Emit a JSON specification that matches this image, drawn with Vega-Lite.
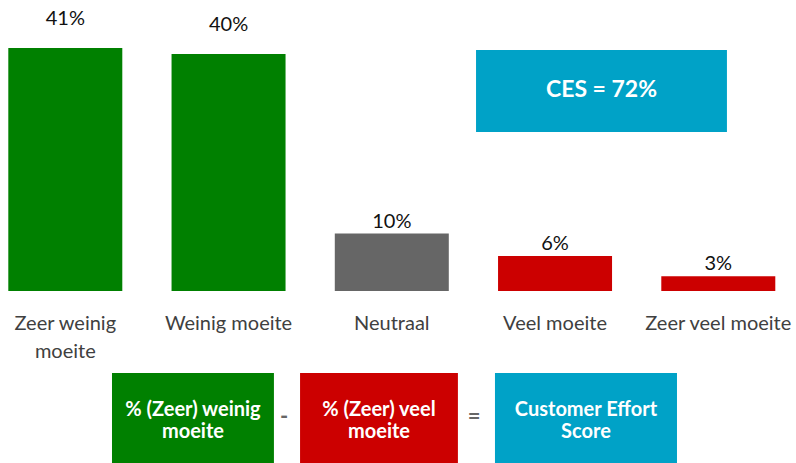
{
  "$schema": "https://vega.github.io/schema/vega-lite/v6.json",
  "width": 796,
  "height": 463,
  "autosize": {"type": "none"},
  "padding": 0,
  "config": {"view": {"stroke": null}, "font": "Lato"},
  "data": {"values": [
    {"idx": 1, "category": "Zeer weinig\nmoeite", "type": "weinig", "share": 0.41},
    {"idx": 2, "category": "Weinig moeite", "type": "weinig", "share": 0.40},
    {"idx": 3, "category": "Neutraal", "type": "neutraal", "share": 0.097},
    {"idx": 4, "category": "Veel moeite", "type": "veel", "share": 0.059},
    {"idx": 5, "category": "Zeer veel moeite", "type": "veel", "share": 0.025}
  ]},
  "layer": [
    {
      "mark": {"type": "bar", "width": 114},
      "encoding": {
        "x": {"field": "idx", "type": "quantitative", "axis": null, "scale": {"domain": [0.6, 5.476], "nice": false, "zero": false, "padding": 0}},
        "y": {"field": "share", "type": "quantitative", "axis": null, "scale": {"domain": [-0.2902, 0.491], "nice": false, "zero": false, "padding": 0}},
        "y2": {"datum": 0},
        "color": {"field": "type", "type": "nominal", "legend": null, "scale": {"domain": ["weinig", "neutraal", "veel"], "range": ["#008000", "#666666", "#cc0000"]}}
      }
    },
    {
      "transform": [{"filter": "datum.share > 0.3"}],
      "mark": {"type": "text", "baseline": "alphabetic", "dy": -23, "fontSize": 20, "color": "#111111"},
      "encoding": {
        "x": {"field": "idx", "type": "quantitative"},
        "y": {"field": "share", "type": "quantitative"},
        "text": {"field": "share", "type": "quantitative", "format": ".0%"}
      }
    },
    {
      "transform": [{"filter": "datum.share <= 0.3"}],
      "mark": {"type": "text", "baseline": "alphabetic", "dy": -6, "fontSize": 20, "color": "#111111"},
      "encoding": {
        "x": {"field": "idx", "type": "quantitative"},
        "y": {"field": "share", "type": "quantitative"},
        "text": {"field": "share", "type": "quantitative", "format": ".0%"}
      }
    },
    {
      "mark": {"type": "text", "baseline": "alphabetic", "fontSize": 20, "color": "#404040", "lineBreak": "\n", "lineHeight": 28},
      "encoding": {
        "x": {"field": "idx", "type": "quantitative"},
        "y": {"datum": -0.0658},
        "text": {"field": "category"}
      }
    },
    {
      "data": {"values": [{"label": "CES = 72%"}]},
      "layer": [
        {
          "mark": {"type": "rect", "color": "#00a2c7"},
          "encoding": {
            "x": {"datum": 3.516}, "x2": {"datum": 5.053},
            "y": {"datum": 0.4066}, "y2": {"datum": 0.2683}
          }
        },
        {
          "mark": {"type": "text", "color": "white", "fontWeight": "bold", "fontSize": 23, "baseline": "alphabetic"},
          "encoding": {
            "x": {"datum": 4.2845}, "y": {"datum": 0.3273},
            "text": {"field": "label"}
          }
        }
      ]
    },
    {
      "data": {"values": [{"label": "% (Zeer) weinig\nmoeite"}]},
      "layer": [
        {
          "mark": {"type": "rect", "color": "#008000"},
          "encoding": {
            "x": {"datum": 1.286}, "x2": {"datum": 2.278},
            "y": {"datum": -0.1383}, "y2": {"datum": -0.2902}
          }
        },
        {
          "mark": {"type": "text", "color": "white", "fontWeight": "bold", "fontSize": 20, "baseline": "alphabetic", "lineBreak": "\n", "lineHeight": 22},
          "encoding": {
            "x": {"datum": 1.782}, "y": {"datum": -0.2101},
            "text": {"field": "label"}
          }
        }
      ]
    },
    {
      "data": {"values": [{"label": "% (Zeer) veel\nmoeite"}]},
      "layer": [
        {
          "mark": {"type": "rect", "color": "#cc0000"},
          "encoding": {
            "x": {"datum": 2.438}, "x2": {"datum": 3.405},
            "y": {"datum": -0.1383}, "y2": {"datum": -0.2902}
          }
        },
        {
          "mark": {"type": "text", "color": "white", "fontWeight": "bold", "fontSize": 20, "baseline": "alphabetic", "lineBreak": "\n", "lineHeight": 22},
          "encoding": {
            "x": {"datum": 2.9215}, "y": {"datum": -0.2101},
            "text": {"field": "label"}
          }
        }
      ]
    },
    {
      "data": {"values": [{"label": "Customer Effort\nScore"}]},
      "layer": [
        {
          "mark": {"type": "rect", "color": "#00a2c7"},
          "encoding": {
            "x": {"datum": 3.632}, "x2": {"datum": 4.747},
            "y": {"datum": -0.1383}, "y2": {"datum": -0.2902}
          }
        },
        {
          "mark": {"type": "text", "color": "white", "fontWeight": "bold", "fontSize": 20, "baseline": "alphabetic", "lineBreak": "\n", "lineHeight": 22},
          "encoding": {
            "x": {"datum": 4.1895}, "y": {"datum": -0.2101},
            "text": {"field": "label"}
          }
        }
      ]
    },
    {
      "data": {"values": [{"op": "-", "pos": 2.34}, {"op": "=", "pos": 3.504}]},
      "mark": {"type": "text", "color": "#666666", "fontWeight": "bold", "fontSize": 22, "baseline": "middle"},
      "encoding": {
        "x": {"field": "pos", "type": "quantitative"},
        "y": {"datum": -0.2126},
        "text": {"field": "op"}
      }
    }
  ]
}
